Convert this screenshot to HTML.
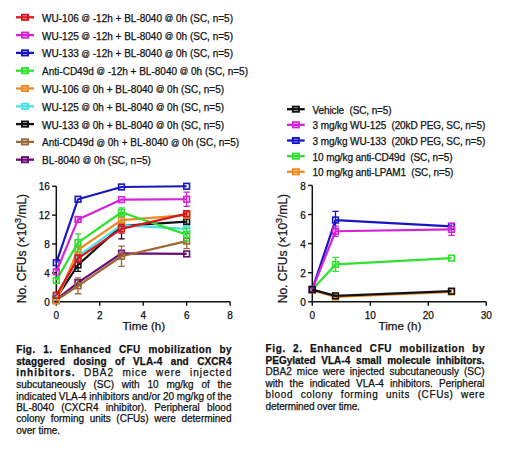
<!DOCTYPE html><html><head><meta charset="utf-8"><style>
html,body{margin:0;padding:0;background:#fff;}
body{width:520px;height:459px;position:relative;overflow:hidden;font-family:"Liberation Sans", sans-serif;}
svg{position:absolute;left:0;top:0;}
.cl{position:absolute;font-size:10px;line-height:11.36px;color:#111;white-space:pre;-webkit-text-stroke:0.25px #111;}
text{stroke:#111;stroke-width:0.25px;}
b{font-weight:700;}
</style></head><body>
<svg width="520" height="459" viewBox="0 0 520 459" font-family='"Liberation Sans", sans-serif'>
<line x1="16" y1="17.30" x2="34" y2="17.30" stroke="#d8161e" stroke-width="2.3"/><rect x="21.95" y="14.70" width="6.1" height="5.2" fill="none" stroke="#d8161e" stroke-width="1.9"/><text x="42.1" y="21.70" font-size="10" fill="#111">WU-106 <tspan font-size="8.3" dy="-0.8">@</tspan><tspan dy="0.8"> </tspan>-12h + BL-8040 <tspan font-size="8.3" dy="-0.8">@</tspan><tspan dy="0.8"> </tspan>0h (SC, n=5)</text>
<line x1="16" y1="35.10" x2="34" y2="35.10" stroke="#d622d6" stroke-width="2.3"/><rect x="21.95" y="32.50" width="6.1" height="5.2" fill="none" stroke="#d622d6" stroke-width="1.9"/><text x="42.1" y="39.50" font-size="10" fill="#111">WU-125 <tspan font-size="8.3" dy="-0.8">@</tspan><tspan dy="0.8"> </tspan>-12h + BL-8040 <tspan font-size="8.3" dy="-0.8">@</tspan><tspan dy="0.8"> </tspan>0h (SC, n=5)</text>
<line x1="16" y1="52.90" x2="34" y2="52.90" stroke="#1616c4" stroke-width="2.3"/><rect x="21.95" y="50.30" width="6.1" height="5.2" fill="none" stroke="#1616c4" stroke-width="1.9"/><text x="42.1" y="57.30" font-size="10" fill="#111">WU-133 <tspan font-size="8.3" dy="-0.8">@</tspan><tspan dy="0.8"> </tspan>-12h + BL-8040 <tspan font-size="8.3" dy="-0.8">@</tspan><tspan dy="0.8"> </tspan>0h (SC, n=5)</text>
<line x1="16" y1="70.70" x2="34" y2="70.70" stroke="#2ee22e" stroke-width="2.3"/><rect x="21.95" y="68.10" width="6.1" height="5.2" fill="none" stroke="#2ee22e" stroke-width="1.9"/><text x="42.1" y="75.10" font-size="10" fill="#111">Anti-CD49d <tspan font-size="8.3" dy="-0.8">@</tspan><tspan dy="0.8"> </tspan>-12h + BL-8040 <tspan font-size="8.3" dy="-0.8">@</tspan><tspan dy="0.8"> </tspan>0h (SC, n=5)</text>
<line x1="16" y1="88.50" x2="34" y2="88.50" stroke="#ee8a22" stroke-width="2.3"/><rect x="21.95" y="85.90" width="6.1" height="5.2" fill="none" stroke="#ee8a22" stroke-width="1.9"/><text x="42.1" y="92.90" font-size="10" fill="#111">WU-106 <tspan font-size="8.3" dy="-0.8">@</tspan><tspan dy="0.8"> </tspan>0h + BL-8040 <tspan font-size="8.3" dy="-0.8">@</tspan><tspan dy="0.8"> </tspan>0h (SC, n=5)</text>
<line x1="16" y1="106.30" x2="34" y2="106.30" stroke="#48e2e6" stroke-width="2.3"/><rect x="21.95" y="103.70" width="6.1" height="5.2" fill="none" stroke="#48e2e6" stroke-width="1.9"/><text x="42.1" y="110.70" font-size="10" fill="#111">WU-125 <tspan font-size="8.3" dy="-0.8">@</tspan><tspan dy="0.8"> </tspan>0h + BL-8040 <tspan font-size="8.3" dy="-0.8">@</tspan><tspan dy="0.8"> </tspan>0h (SC, n=5)</text>
<line x1="16" y1="124.10" x2="34" y2="124.10" stroke="#111111" stroke-width="2.3"/><rect x="21.95" y="121.50" width="6.1" height="5.2" fill="none" stroke="#111111" stroke-width="1.9"/><text x="42.1" y="128.50" font-size="10" fill="#111">WU-133 <tspan font-size="8.3" dy="-0.8">@</tspan><tspan dy="0.8"> </tspan>0h + BL-8040 <tspan font-size="8.3" dy="-0.8">@</tspan><tspan dy="0.8"> </tspan>0h (SC, n=5)</text>
<line x1="16" y1="141.90" x2="34" y2="141.90" stroke="#9c6838" stroke-width="2.3"/><rect x="21.95" y="139.30" width="6.1" height="5.2" fill="none" stroke="#9c6838" stroke-width="1.9"/><text x="42.1" y="146.30" font-size="10" fill="#111">Anti-CD49d <tspan font-size="8.3" dy="-0.8">@</tspan><tspan dy="0.8"> </tspan>0h + BL-8040 <tspan font-size="8.3" dy="-0.8">@</tspan><tspan dy="0.8"> </tspan>0h (SC, n=5)</text>
<line x1="16" y1="159.70" x2="34" y2="159.70" stroke="#6a0a76" stroke-width="2.3"/><rect x="21.95" y="157.10" width="6.1" height="5.2" fill="none" stroke="#6a0a76" stroke-width="1.9"/><text x="42.1" y="164.10" font-size="10" fill="#111">BL-8040 <tspan font-size="8.3" dy="-0.8">@</tspan><tspan dy="0.8"> </tspan>0h (SC, n=5)</text>
<line x1="287" y1="109.20" x2="304.7" y2="109.20" stroke="#111111" stroke-width="2.3"/><rect x="292.80" y="106.60" width="6.1" height="5.2" fill="none" stroke="#111111" stroke-width="1.9"/><text x="312.6" y="113.80" font-size="10" fill="#111" letter-spacing="-0.11">Vehicle&#160;&#160;(SC, n=5)</text>
<line x1="287" y1="124.85" x2="304.7" y2="124.85" stroke="#d622d6" stroke-width="2.3"/><rect x="292.80" y="122.25" width="6.1" height="5.2" fill="none" stroke="#d622d6" stroke-width="1.9"/><text x="312.6" y="129.45" font-size="10" fill="#111" letter-spacing="-0.11">3 mg/kg WU-125&#160;&#160;(20kD PEG, SC, n=5)</text>
<line x1="287" y1="140.50" x2="304.7" y2="140.50" stroke="#1616c4" stroke-width="2.3"/><rect x="292.80" y="137.90" width="6.1" height="5.2" fill="none" stroke="#1616c4" stroke-width="1.9"/><text x="312.6" y="145.10" font-size="10" fill="#111" letter-spacing="-0.11">3 mg/kg WU-133&#160;&#160;(20kD PEG, SC, n=5)</text>
<line x1="287" y1="156.15" x2="304.7" y2="156.15" stroke="#2ee22e" stroke-width="2.3"/><rect x="292.80" y="153.55" width="6.1" height="5.2" fill="none" stroke="#2ee22e" stroke-width="1.9"/><text x="312.6" y="160.75" font-size="10" fill="#111" letter-spacing="-0.11">10 mg/kg anti-CD49d&#160;&#160;(SC, n=5)</text>
<line x1="287" y1="171.80" x2="304.7" y2="171.80" stroke="#ee8a22" stroke-width="2.3"/><rect x="292.80" y="169.20" width="6.1" height="5.2" fill="none" stroke="#ee8a22" stroke-width="1.9"/><text x="312.6" y="176.40" font-size="10" fill="#111" letter-spacing="-0.11">10 mg/kg anti-LPAM1&#160;&#160;(SC, n=5)</text>
<path d="M56.3 186.26 V301.7 H230.14" fill="none" stroke="#111" stroke-width="1.5"/><line x1="52.099999999999994" y1="301.70" x2="56.3" y2="301.70" stroke="#111" stroke-width="1.4"/><text x="49.8" y="305.90" font-size="10" text-anchor="end" fill="#111">0</text><line x1="52.099999999999994" y1="272.84" x2="56.3" y2="272.84" stroke="#111" stroke-width="1.4"/><text x="49.8" y="277.04" font-size="10" text-anchor="end" fill="#111">4</text><line x1="52.099999999999994" y1="243.98" x2="56.3" y2="243.98" stroke="#111" stroke-width="1.4"/><text x="49.8" y="248.18" font-size="10" text-anchor="end" fill="#111">8</text><line x1="52.099999999999994" y1="215.12" x2="56.3" y2="215.12" stroke="#111" stroke-width="1.4"/><text x="49.8" y="219.32" font-size="10" text-anchor="end" fill="#111">12</text><line x1="52.099999999999994" y1="186.26" x2="56.3" y2="186.26" stroke="#111" stroke-width="1.4"/><text x="49.8" y="190.46" font-size="10" text-anchor="end" fill="#111">16</text><line x1="56.30" y1="301.7" x2="56.30" y2="305.7" stroke="#111" stroke-width="1.4"/><text x="56.30" y="318.60" font-size="10" text-anchor="middle" fill="#111">0</text><line x1="99.76" y1="301.7" x2="99.76" y2="305.7" stroke="#111" stroke-width="1.4"/><text x="99.76" y="318.60" font-size="10" text-anchor="middle" fill="#111">2</text><line x1="143.22" y1="301.7" x2="143.22" y2="305.7" stroke="#111" stroke-width="1.4"/><text x="143.22" y="318.60" font-size="10" text-anchor="middle" fill="#111">4</text><line x1="186.68" y1="301.7" x2="186.68" y2="305.7" stroke="#111" stroke-width="1.4"/><text x="186.68" y="318.60" font-size="10" text-anchor="middle" fill="#111">6</text><line x1="230.14" y1="301.7" x2="230.14" y2="305.7" stroke="#111" stroke-width="1.4"/><text x="230.14" y="318.60" font-size="10" text-anchor="middle" fill="#111">8</text><text x="143.82" y="330.3" font-size="11.6" text-anchor="middle" fill="#111">Time (h)</text><text transform="translate(25.8,248.6) rotate(-90)" font-size="12" text-anchor="middle" fill="#111">No. CFUs (×10<tspan dy="-5.3" font-size="9">3</tspan><tspan dy="5.3">/mL)</tspan></text>
<path d="M78.03 279.69 V285.47 M74.83 279.69 H81.23 M74.83 285.47 H81.23" stroke="#6a0a76" stroke-width="1.3" fill="none"/><path d="M121.49 250.47 V256.25 M118.29 250.47 H124.69 M118.29 256.25 H124.69" stroke="#6a0a76" stroke-width="1.3" fill="none"/><polyline points="56.30,299.54 78.03,282.58 121.49,253.36 186.68,253.94" fill="none" stroke="#6a0a76" stroke-width="2.2" stroke-linejoin="round"/><rect x="53.45" y="296.69" width="5.70" height="5.70" fill="none" stroke="#6a0a76" stroke-width="1.6"/><rect x="75.18" y="279.73" width="5.70" height="5.70" fill="none" stroke="#6a0a76" stroke-width="1.6"/><rect x="118.64" y="250.51" width="5.70" height="5.70" fill="none" stroke="#6a0a76" stroke-width="1.6"/><rect x="183.83" y="251.09" width="5.70" height="5.70" fill="none" stroke="#6a0a76" stroke-width="1.6"/>
<path d="M78.03 277.89 V293.76 M74.83 277.89 H81.23 M74.83 293.76 H81.23" stroke="#9c6838" stroke-width="1.3" fill="none"/><path d="M121.49 246.14 V266.35 M118.29 246.14 H124.69 M118.29 266.35 H124.69" stroke="#9c6838" stroke-width="1.3" fill="none"/><path d="M186.68 233.52 V248.67 M183.48 233.52 H189.88 M183.48 248.67 H189.88" stroke="#9c6838" stroke-width="1.3" fill="none"/><polyline points="56.30,300.26 78.03,285.83 121.49,256.25 186.68,241.09" fill="none" stroke="#9c6838" stroke-width="2.2" stroke-linejoin="round"/><rect x="53.45" y="297.41" width="5.70" height="5.70" fill="none" stroke="#9c6838" stroke-width="1.6"/><rect x="75.18" y="282.98" width="5.70" height="5.70" fill="none" stroke="#9c6838" stroke-width="1.6"/><rect x="118.64" y="253.40" width="5.70" height="5.70" fill="none" stroke="#9c6838" stroke-width="1.6"/><rect x="183.83" y="238.24" width="5.70" height="5.70" fill="none" stroke="#9c6838" stroke-width="1.6"/>
<path d="M78.03 258.41 V271.40 M74.83 258.41 H81.23 M74.83 271.40 H81.23" stroke="#111111" stroke-width="1.3" fill="none"/><path d="M121.49 212.96 V238.93 M118.29 212.96 H124.69 M118.29 238.93 H124.69" stroke="#111111" stroke-width="1.3" fill="none"/><path d="M186.68 218.73 V224.50 M183.48 218.73 H189.88 M183.48 224.50 H189.88" stroke="#111111" stroke-width="1.3" fill="none"/><polyline points="56.30,298.09 78.03,264.90 121.49,225.94 186.68,221.61" fill="none" stroke="#111111" stroke-width="2.2" stroke-linejoin="round"/><rect x="53.45" y="295.24" width="5.70" height="5.70" fill="none" stroke="#111111" stroke-width="1.6"/><rect x="75.18" y="262.05" width="5.70" height="5.70" fill="none" stroke="#111111" stroke-width="1.6"/><rect x="118.64" y="223.09" width="5.70" height="5.70" fill="none" stroke="#111111" stroke-width="1.6"/><rect x="183.83" y="218.76" width="5.70" height="5.70" fill="none" stroke="#111111" stroke-width="1.6"/>
<path d="M78.03 253.36 V259.13 M74.83 253.36 H81.23 M74.83 259.13 H81.23" stroke="#48e2e6" stroke-width="1.3" fill="none"/><path d="M121.49 222.33 V228.11 M118.29 222.33 H124.69 M118.29 228.11 H124.69" stroke="#48e2e6" stroke-width="1.3" fill="none"/><path d="M186.68 225.94 V231.71 M183.48 225.94 H189.88 M183.48 231.71 H189.88" stroke="#48e2e6" stroke-width="1.3" fill="none"/><polyline points="56.30,297.37 78.03,256.25 121.49,225.22 186.68,228.83" fill="none" stroke="#48e2e6" stroke-width="2.2" stroke-linejoin="round"/><rect x="53.45" y="294.52" width="5.70" height="5.70" fill="none" stroke="#48e2e6" stroke-width="1.6"/><rect x="75.18" y="253.40" width="5.70" height="5.70" fill="none" stroke="#48e2e6" stroke-width="1.6"/><rect x="118.64" y="222.37" width="5.70" height="5.70" fill="none" stroke="#48e2e6" stroke-width="1.6"/><rect x="183.83" y="225.98" width="5.70" height="5.70" fill="none" stroke="#48e2e6" stroke-width="1.6"/>
<path d="M78.03 246.87 V252.64 M74.83 246.87 H81.23 M74.83 252.64 H81.23" stroke="#ee8a22" stroke-width="1.3" fill="none"/><path d="M121.49 217.28 V223.06 M118.29 217.28 H124.69 M118.29 223.06 H124.69" stroke="#ee8a22" stroke-width="1.3" fill="none"/><path d="M186.68 212.23 V218.01 M183.48 212.23 H189.88 M183.48 218.01 H189.88" stroke="#ee8a22" stroke-width="1.3" fill="none"/><polyline points="56.30,300.98 78.03,249.75 121.49,220.17 186.68,215.12" fill="none" stroke="#ee8a22" stroke-width="2.2" stroke-linejoin="round"/><rect x="53.45" y="298.13" width="5.70" height="5.70" fill="none" stroke="#ee8a22" stroke-width="1.6"/><rect x="75.18" y="246.90" width="5.70" height="5.70" fill="none" stroke="#ee8a22" stroke-width="1.6"/><rect x="118.64" y="217.32" width="5.70" height="5.70" fill="none" stroke="#ee8a22" stroke-width="1.6"/><rect x="183.83" y="212.27" width="5.70" height="5.70" fill="none" stroke="#ee8a22" stroke-width="1.6"/>
<path d="M78.03 233.88 V251.19 M74.83 233.88 H81.23 M74.83 251.19 H81.23" stroke="#2ee22e" stroke-width="1.3" fill="none"/><path d="M121.49 207.90 V216.56 M118.29 207.90 H124.69 M118.29 216.56 H124.69" stroke="#2ee22e" stroke-width="1.3" fill="none"/><path d="M186.68 228.11 V241.09 M183.48 228.11 H189.88 M183.48 241.09 H189.88" stroke="#2ee22e" stroke-width="1.3" fill="none"/><polyline points="56.30,280.42 78.03,242.54 121.49,212.23 186.68,234.60" fill="none" stroke="#2ee22e" stroke-width="2.2" stroke-linejoin="round"/><rect x="53.45" y="277.57" width="5.70" height="5.70" fill="none" stroke="#2ee22e" stroke-width="1.6"/><rect x="75.18" y="239.69" width="5.70" height="5.70" fill="none" stroke="#2ee22e" stroke-width="1.6"/><rect x="118.64" y="209.38" width="5.70" height="5.70" fill="none" stroke="#2ee22e" stroke-width="1.6"/><rect x="183.83" y="231.75" width="5.70" height="5.70" fill="none" stroke="#2ee22e" stroke-width="1.6"/>
<polyline points="56.30,262.74 78.03,199.25 121.49,186.98 186.68,186.26" fill="none" stroke="#1616c4" stroke-width="2.2" stroke-linejoin="round"/><rect x="53.45" y="259.89" width="5.70" height="5.70" fill="none" stroke="#1616c4" stroke-width="1.6"/><rect x="75.18" y="196.40" width="5.70" height="5.70" fill="none" stroke="#1616c4" stroke-width="1.6"/><rect x="118.64" y="184.13" width="5.70" height="5.70" fill="none" stroke="#1616c4" stroke-width="1.6"/><rect x="183.83" y="183.41" width="5.70" height="5.70" fill="none" stroke="#1616c4" stroke-width="1.6"/>
<path d="M78.03 216.56 V222.33 M74.83 216.56 H81.23 M74.83 222.33 H81.23" stroke="#d622d6" stroke-width="1.3" fill="none"/><path d="M186.68 192.03 V206.46 M183.48 192.03 H189.88 M183.48 206.46 H189.88" stroke="#d622d6" stroke-width="1.3" fill="none"/><polyline points="56.30,271.76 78.03,219.45 121.49,199.61 186.68,199.25" fill="none" stroke="#d622d6" stroke-width="2.2" stroke-linejoin="round"/><rect x="53.45" y="268.91" width="5.70" height="5.70" fill="none" stroke="#d622d6" stroke-width="1.6"/><rect x="75.18" y="216.60" width="5.70" height="5.70" fill="none" stroke="#d622d6" stroke-width="1.6"/><rect x="118.64" y="196.76" width="5.70" height="5.70" fill="none" stroke="#d622d6" stroke-width="1.6"/><rect x="183.83" y="196.40" width="5.70" height="5.70" fill="none" stroke="#d622d6" stroke-width="1.6"/>
<path d="M78.03 254.80 V262.02 M74.83 254.80 H81.23 M74.83 262.02 H81.23" stroke="#d8161e" stroke-width="1.3" fill="none"/><path d="M121.49 224.50 V233.16 M118.29 224.50 H124.69 M118.29 233.16 H124.69" stroke="#d8161e" stroke-width="1.3" fill="none"/><path d="M186.68 210.79 V216.56 M183.48 210.79 H189.88 M183.48 216.56 H189.88" stroke="#d8161e" stroke-width="1.3" fill="none"/><polyline points="56.30,295.21 78.03,258.41 121.49,228.83 186.68,213.68" fill="none" stroke="#d8161e" stroke-width="2.2" stroke-linejoin="round"/><rect x="53.45" y="292.36" width="5.70" height="5.70" fill="none" stroke="#d8161e" stroke-width="1.6"/><rect x="75.18" y="255.56" width="5.70" height="5.70" fill="none" stroke="#d8161e" stroke-width="1.6"/><rect x="118.64" y="225.98" width="5.70" height="5.70" fill="none" stroke="#d8161e" stroke-width="1.6"/><rect x="183.83" y="210.83" width="5.70" height="5.70" fill="none" stroke="#d8161e" stroke-width="1.6"/>
<path d="M312.3 185.40 V301.8 H486.30" fill="none" stroke="#111" stroke-width="1.5"/><line x1="308.1" y1="301.80" x2="312.3" y2="301.80" stroke="#111" stroke-width="1.4"/><text x="305.8" y="306.00" font-size="10" text-anchor="end" fill="#111">0</text><line x1="308.1" y1="272.70" x2="312.3" y2="272.70" stroke="#111" stroke-width="1.4"/><text x="305.8" y="276.90" font-size="10" text-anchor="end" fill="#111">2</text><line x1="308.1" y1="243.60" x2="312.3" y2="243.60" stroke="#111" stroke-width="1.4"/><text x="305.8" y="247.80" font-size="10" text-anchor="end" fill="#111">4</text><line x1="308.1" y1="214.50" x2="312.3" y2="214.50" stroke="#111" stroke-width="1.4"/><text x="305.8" y="218.70" font-size="10" text-anchor="end" fill="#111">6</text><line x1="308.1" y1="185.40" x2="312.3" y2="185.40" stroke="#111" stroke-width="1.4"/><text x="305.8" y="189.60" font-size="10" text-anchor="end" fill="#111">8</text><line x1="312.30" y1="301.8" x2="312.30" y2="305.8" stroke="#111" stroke-width="1.4"/><text x="312.30" y="318.70" font-size="10" text-anchor="middle" fill="#111">0</text><line x1="370.30" y1="301.8" x2="370.30" y2="305.8" stroke="#111" stroke-width="1.4"/><text x="370.30" y="318.70" font-size="10" text-anchor="middle" fill="#111">10</text><line x1="428.30" y1="301.8" x2="428.30" y2="305.8" stroke="#111" stroke-width="1.4"/><text x="428.30" y="318.70" font-size="10" text-anchor="middle" fill="#111">20</text><line x1="486.30" y1="301.8" x2="486.30" y2="305.8" stroke="#111" stroke-width="1.4"/><text x="486.30" y="318.70" font-size="10" text-anchor="middle" fill="#111">30</text><text x="399.90" y="330.3" font-size="11.6" text-anchor="middle" fill="#111">Time (h)</text><text transform="translate(286.9,248.6) rotate(-90)" font-size="12" text-anchor="middle" fill="#111">No. CFUs (×10<tspan dy="-5.3" font-size="9">3</tspan><tspan dy="5.3">/mL)</tspan></text>
<polyline points="312.30,290.16 335.50,297.00 451.50,291.91" fill="none" stroke="#ee8a22" stroke-width="2.2" stroke-linejoin="round"/><rect x="309.45" y="287.31" width="5.70" height="5.70" fill="none" stroke="#ee8a22" stroke-width="1.6"/><rect x="332.65" y="294.15" width="5.70" height="5.70" fill="none" stroke="#ee8a22" stroke-width="1.6"/><rect x="448.65" y="289.06" width="5.70" height="5.70" fill="none" stroke="#ee8a22" stroke-width="1.6"/>
<path d="M335.50 257.42 V271.39 M332.30 257.42 H338.70 M332.30 271.39 H338.70" stroke="#2ee22e" stroke-width="1.3" fill="none"/><polyline points="312.30,289.43 335.50,264.41 451.50,258.15" fill="none" stroke="#2ee22e" stroke-width="2.2" stroke-linejoin="round"/><rect x="309.45" y="286.58" width="5.70" height="5.70" fill="none" stroke="#2ee22e" stroke-width="1.6"/><rect x="332.65" y="261.56" width="5.70" height="5.70" fill="none" stroke="#2ee22e" stroke-width="1.6"/><rect x="448.65" y="255.30" width="5.70" height="5.70" fill="none" stroke="#2ee22e" stroke-width="1.6"/>
<path d="M335.50 211.30 V228.76 M332.30 211.30 H338.70 M332.30 228.76 H338.70" stroke="#1616c4" stroke-width="1.3" fill="none"/><polyline points="312.30,289.43 335.50,220.03 451.50,226.43" fill="none" stroke="#1616c4" stroke-width="2.2" stroke-linejoin="round"/><rect x="309.45" y="286.58" width="5.70" height="5.70" fill="none" stroke="#1616c4" stroke-width="1.6"/><rect x="332.65" y="217.18" width="5.70" height="5.70" fill="none" stroke="#1616c4" stroke-width="1.6"/><rect x="448.65" y="223.58" width="5.70" height="5.70" fill="none" stroke="#1616c4" stroke-width="1.6"/>
<path d="M335.50 226.14 V236.32 M332.30 226.14 H338.70 M332.30 236.32 H338.70" stroke="#d622d6" stroke-width="1.3" fill="none"/><path d="M451.50 223.23 V235.45 M448.30 223.23 H454.70 M448.30 235.45 H454.70" stroke="#d622d6" stroke-width="1.3" fill="none"/><polyline points="312.30,289.43 335.50,231.23 451.50,229.34" fill="none" stroke="#d622d6" stroke-width="2.2" stroke-linejoin="round"/><rect x="309.45" y="286.58" width="5.70" height="5.70" fill="none" stroke="#d622d6" stroke-width="1.6"/><rect x="332.65" y="228.38" width="5.70" height="5.70" fill="none" stroke="#d622d6" stroke-width="1.6"/><rect x="448.65" y="226.49" width="5.70" height="5.70" fill="none" stroke="#d622d6" stroke-width="1.6"/>
<polyline points="312.30,289.58 335.50,295.83 451.50,291.18" fill="none" stroke="#111111" stroke-width="2.2" stroke-linejoin="round"/><rect x="309.45" y="286.73" width="5.70" height="5.70" fill="none" stroke="#111111" stroke-width="1.6"/><rect x="332.65" y="292.98" width="5.70" height="5.70" fill="none" stroke="#111111" stroke-width="1.6"/><rect x="448.65" y="288.33" width="5.70" height="5.70" fill="none" stroke="#111111" stroke-width="1.6"/>
</svg>
<div class="cl" style="left:16.2px;top:344.30px;letter-spacing:0.4px;word-spacing:4.590px"><b>Fig. 1. Enhanced CFU mobilization by</b></div><div class="cl" style="left:16.2px;top:356.16px;letter-spacing:0.1px;word-spacing:5.486px"><b>staggered dosing of VLA-4 and CXCR4</b></div><div class="cl" style="left:16.2px;top:367.42px;letter-spacing:1.0px;word-spacing:4.614px"><b>inhibitors.</b> DBA2 mice were injected</div><div class="cl" style="left:16.2px;top:379.18px;letter-spacing:0px;word-spacing:5.034px">subcutaneously (SC) with 10 mg/kg of the</div><div class="cl" style="left:16.2px;top:390.54px;letter-spacing:0px;word-spacing:-0.136px">indicated VLA-4 inhibitors and/or 20 mg/kg of the</div><div class="cl" style="left:16.2px;top:401.90px;letter-spacing:0px;word-spacing:4.493px">BL-8040 (CXCR4 inhibitor). Peripheral blood</div><div class="cl" style="left:16.2px;top:413.26px;letter-spacing:0px;word-spacing:2.823px">colony forming units (CFUs) were determined</div><div class="cl" style="left:16.2px;top:424.62px;letter-spacing:0px;word-spacing:0.000px">over time.</div>
<div class="cl" style="left:265.6px;top:343.20px;letter-spacing:0.6px;word-spacing:3.929px"><b>Fig. 2. Enhanced CFU mobilization by</b></div><div class="cl" style="left:265.6px;top:354.86px;letter-spacing:0px;word-spacing:2.930px"><b>PEGylated VLA-4 small molecule inhibitors.</b></div><div class="cl" style="left:265.6px;top:366.42px;letter-spacing:0px;word-spacing:2.334px">DBA2 mice were injected subcutaneously (SC)</div><div class="cl" style="left:265.6px;top:377.78px;letter-spacing:0px;word-spacing:3.444px">with the indicated VLA-4 inhibitors. Peripheral</div><div class="cl" style="left:265.6px;top:389.14px;letter-spacing:0.6px;word-spacing:4.236px">blood colony forming units (CFUs) were</div><div class="cl" style="left:265.6px;top:400.50px;letter-spacing:-0.12px;word-spacing:0.000px">determined over time.</div>
</body></html>
